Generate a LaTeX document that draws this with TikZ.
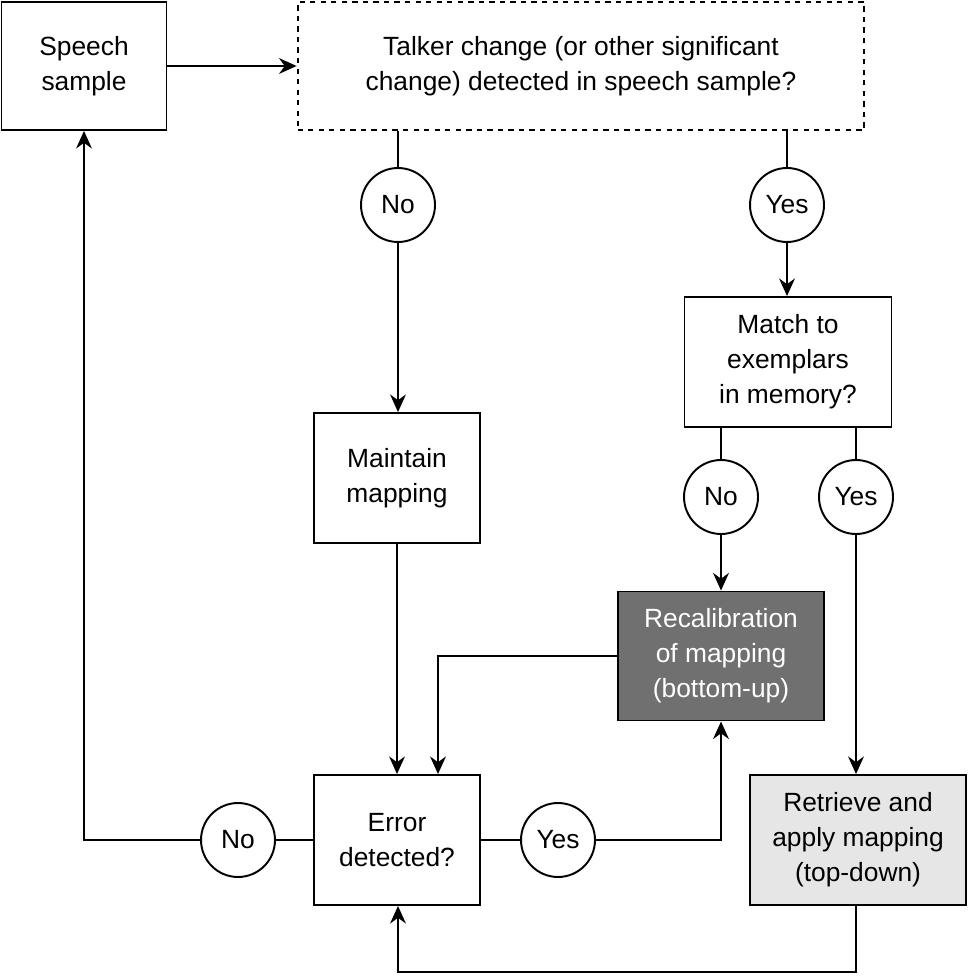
\documentclass[tikz,border=0pt]{standalone}
\usepackage{fontspec}
\setmainfont{Liberation Sans}
\usetikzlibrary{arrows.meta}
\definecolor{recalgray}{HTML}{707070}
\definecolor{retrgray}{HTML}{E6E6E6}
\tikzset{
	box/.style={draw, line width=1.1pt, align=center, font=\fontsize{15}{20}\selectfont, inner sep=0pt},
	answer/.style={draw, circle, line width=1.1pt, fill=white, minimum size=1.48cm, inner sep=0pt, font=\fontsize{15}{18}\selectfont},
	link/.style={line width=1.1pt},
	arrowlink/.style={line width=1.1pt, -{Stealth[length=10pt,width=9pt]}}
}
\begin{document}
\begin{tikzpicture}[x=0.02cm, y=-0.02cm]
		\useasboundingbox (0,0) rectangle (968,976);
		\node[box, minimum width=3.3cm, minimum height=2.56cm] (speech) at (84,66) {Speech\\sample};
		\node[box, dashed, minimum width=11.34cm, minimum height=2.56cm] (talker) at (581,66) {Talker change (or other significant\\change) detected in speech sample?};
		\node[box, minimum width=4.14cm, minimum height=2.6cm] (match) at (788,362) {Match to\\exemplars\\in memory?};
		\node[box, minimum width=3.32cm, minimum height=2.6cm] (maintain) at (397,478) {Maintain\\mapping};
		\node[box, fill=recalgray, text=white, minimum width=4.12cm, minimum height=2.58cm] (recal) at (721,656) {Recalibration\\of mapping\\(bottom-up)};
		\node[box, minimum width=3.32cm, minimum height=2.6cm] (error) at (397,840) {Error\\detected?};
		\node[box, fill=retrgray, minimum width=4.32cm, minimum height=2.6cm] (retrieve) at (858,840) {Retrieve and\\apply mapping\\(top-down)};
		\node[answer] (noA) at (398,205) {No};
		\node[answer] (yesA) at (787,205) {Yes};
		\node[answer] (noB) at (721,497) {No};
		\node[answer] (yesB) at (856,497) {Yes};
		\node[answer] (noC) at (238,840) {No};
		\node[answer] (yesC) at (558,840) {Yes};
		\coordinate (cornerA) at (84,840);
		\coordinate (cornerB) at (438,656);
		\coordinate (cornerC) at (721,840);
		\coordinate (cornerD) at (856,972);
		\coordinate (cornerE) at (398,972);
		\draw[arrowlink] (speech) -- (talker);
		\draw[link] (talker.south -| noA) -- (noA);
		\draw[arrowlink] (noA) -- (maintain.north -| noA);
		\draw[link] (talker.south -| yesA) -- (yesA);
		\draw[arrowlink] (yesA) -- (match.north -| yesA);
		\draw[link] (match.south -| noB) -- (noB);
		\draw[arrowlink] (noB) -- (recal.north -| noB);
		\draw[link] (match.south -| yesB) -- (yesB);
		\draw[arrowlink] (yesB) -- (retrieve.north -| yesB);
		\draw[arrowlink] (maintain) -- (error);
		\draw[arrowlink] (recal.west) -- (cornerB) -- (error.north -| cornerB);
		\draw[link] (error) -- (noC);
		\draw[arrowlink] (noC) -- (cornerA) -- (speech.south);
		\draw[link] (error) -- (yesC);
		\draw[arrowlink] (yesC) -- (cornerC) -- (recal.south);
		\draw[arrowlink] (retrieve.south -| cornerD) -- (cornerD) -- (cornerE) -- (error.south -| cornerE);
	\end{tikzpicture}
\end{document}
